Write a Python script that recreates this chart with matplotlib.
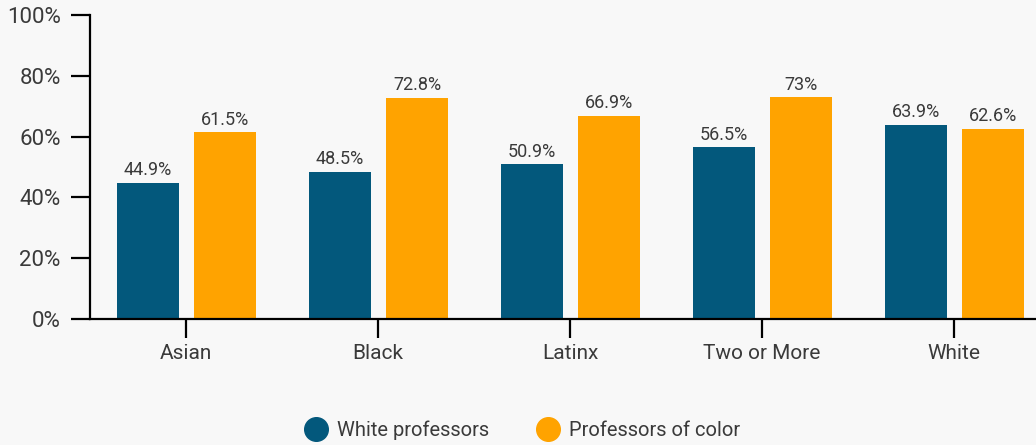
import numpy as np
import matplotlib.pyplot as plt
from matplotlib.lines import Line2D

categories = ['Asian', 'Black', 'Latinx', 'Two or More', 'White']
white_prof = [44.9, 48.5, 50.9, 56.5, 63.9]
color_prof = [61.5, 72.8, 66.9, 73, 62.6]
white_labels = ['44.9%', '48.5%', '50.9%', '56.5%', '63.9%']
color_labels = ['61.5%', '72.8%', '66.9%', '73%', '62.6%']
series_names = ['White professors', 'Professors of color']

blue = '#03587c'
orange = '#ffa300'
bg = '#f8f8f8'
txt = '#3a3a3a'

plt.rcParams['font.family'] = ['Roboto', 'DejaVu Sans']

fig = plt.figure(figsize=(10.36, 4.45), dpi=100, facecolor=bg)
ax = fig.add_axes([0.0869, 0.2831, 0.9131, 0.6832])
ax.set_facecolor(bg)

x = np.arange(len(categories))
w = 0.323
b1 = ax.bar(x - 0.2, white_prof, w, color=blue)
b2 = ax.bar(x + 0.203, color_prof, w, color=orange)
for bars, labs in ((b1, white_labels), (b2, color_labels)):
	for r, lab in zip(bars, labs):
		ax.annotate(lab, (r.get_x() + r.get_width() / 2, r.get_height()),
			xytext=(0, 2.5), textcoords='offset points', ha='center', va='bottom',
			fontsize=13, color=txt)

ax.set_xlim(-0.5, 4.427)
ax.set_ylim(0, 100)
ax.set_yticks([0, 20, 40, 60, 80, 100])
ax.set_yticklabels(['0%', '20%', '40%', '60%', '80%', '100%'])
ax.set_xticks(x)
ax.set_xticklabels(categories)
for s in ('top', 'right'):
	ax.spines[s].set_visible(False)
for s in ('left', 'bottom'):
	ax.spines[s].set_linewidth(1.6)
	ax.spines[s].set_color('black')
ax.tick_params(axis='both', length=14, width=1.6, color='black', labelcolor=txt)
ax.tick_params(axis='y', labelsize=16, pad=7)
ax.tick_params(axis='x', labelsize=15, pad=4)

handles = [Line2D([], [], marker='o', ls='', color=c, markersize=17) for c in (blue, orange)]
fig.legend(handles, series_names, loc='center', bbox_to_anchor=(0.5, 0.034), ncol=2, frameon=False,
	fontsize=14.5, labelcolor=txt, handletextpad=0.05, columnspacing=1.9)

fig.savefig('out.png', dpi=100, facecolor=bg)
